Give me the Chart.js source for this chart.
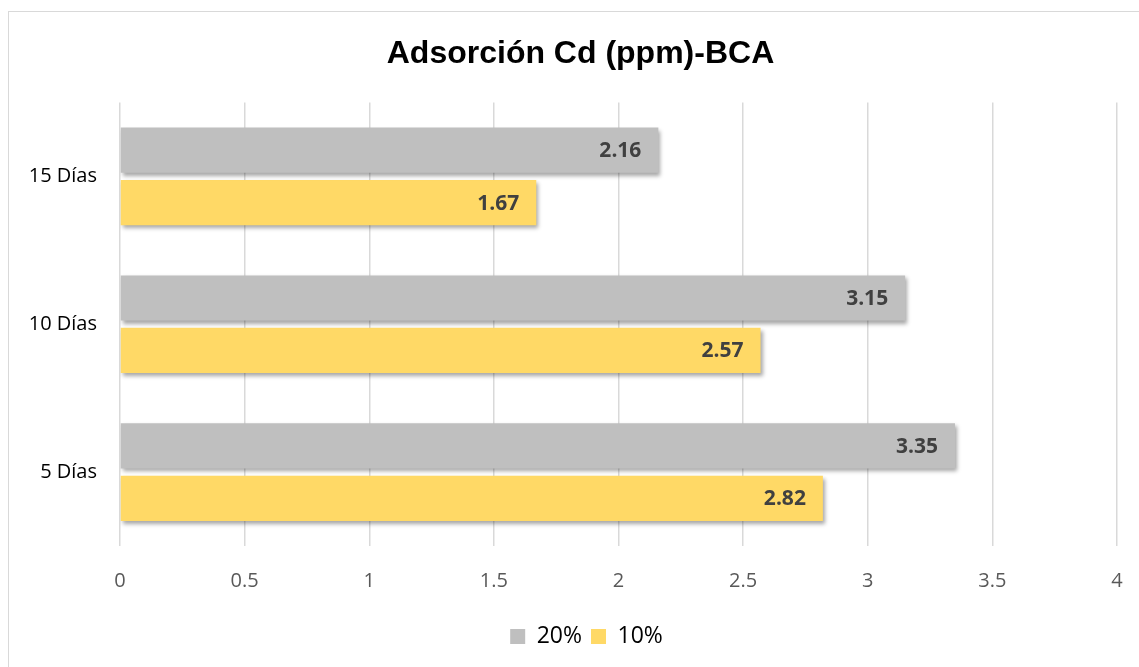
<!DOCTYPE html>
<html>
<head>
<meta charset="utf-8">
<script src="https://cdn.jsdelivr.net/npm/chart.js@4"></script>
<style>
    html, body { margin: 0; padding: 0; background: #fff; overflow: hidden; }
    #frame {
        position: absolute; left: 8px; top: 11px; width: 1200px; height: 700px;
        border: 1px solid #d9d9d9; box-sizing: border-box;
    }
    #wrap { position: absolute; left: 0; top: 0; width: 1139px; height: 667px; }
</style>
</head>
<body>
<div id="frame"></div>
<div id="wrap"><canvas id="chart" width="1139" height="667"></canvas></div>
<script>
// Chart data
const categories = ['15 Días', '10 Días', '5 Días'];
const series20 = [2.16, 3.15, 3.35];
const series10 = [1.67, 2.57, 2.82];
const seriesNames = ['20%', '10%'];
const xTicks = [0, 0.5, 1, 1.5, 2, 2.5, 3, 3.5, 4];

// Soft shadow under the bars
const barShadow = {
    id: 'barShadow',
    beforeDatasetsDraw(chart) {
        const ctx = chart.ctx;
        ctx.save();
        ctx.shadowColor = 'rgba(0, 0, 0, 0.35)';
        ctx.shadowBlur = 4;
        ctx.shadowOffsetX = 2;
        ctx.shadowOffsetY = 3;
    },
    afterDatasetsDraw(chart) {
        chart.ctx.restore();
    }
};

// Value labels at the inside end of each bar
const valueLabels = {
    id: 'valueLabels',
    afterDatasetsDraw(chart) {
        const ctx = chart.ctx;
        ctx.save();
        ctx.font = 'bold 21px "Open Sans"';
        ctx.fillStyle = '#404040';
        ctx.textAlign = 'right';
        ctx.textBaseline = 'middle';
        chart.data.datasets.forEach((ds, i) => {
            chart.getDatasetMeta(i).data.forEach((bar, j) => {
                ctx.fillText(ds.data[j].toFixed(2), bar.x - 17, bar.y + 1);
            });
        });
        ctx.restore();
    }
};

// Title and legend sit a little right of the canvas centre in the original
const shiftBlocks = {
    id: 'shiftBlocks',
    afterLayout(chart) {
        chart.titleBlock.left += 22;
        chart.titleBlock.right += 22;
        chart.legend.left += 28;
        chart.legend.right += 28;
    }
};

new Chart(document.getElementById('chart').getContext('2d'), {
    type: 'bar',
    data: {
        labels: categories,
        datasets: [
            {
                label: seriesNames[0],
                data: series20,
                backgroundColor: '#bfbfbf',
                categoryPercentage: 0.71,
                barPercentage: 0.86
            },
            {
                label: seriesNames[1],
                data: series10,
                backgroundColor: '#ffd966',
                categoryPercentage: 0.71,
                barPercentage: 0.86
            }
        ]
    },
    options: {
        indexAxis: 'y',
        responsive: false,
        animation: false,
        layout: { padding: { left: 0, right: 22, top: 0, bottom: 9 } },
        plugins: {
            title: {
                display: true,
                text: 'Adsorción Cd (ppm)-BCA',
                color: '#000',
                font: { family: '"Liberation Sans", Arial', size: 32, weight: 'bold' },
                padding: { top: 35, bottom: 29 }
            },
            legend: {
                position: 'bottom',
                labels: {
                    color: '#000',
                    font: { family: '"Open Sans"', size: 23 },
                    boxWidth: 15,
                    boxHeight: 15,
                    padding: 9
                }
            },
            tooltip: { enabled: false }
        },
        scales: {
            x: {
                min: 0,
                max: 4,
                afterBuildTicks: scale => {
                    scale.ticks = xTicks.map(v => ({ value: v }));
                },
                // extra room under the labels, kept out of the tick padding
                afterFit: scale => { scale.height += 23; },
                grid: { color: '#d9d9d9', lineWidth: 1.5, drawTicks: true, tickLength: 23, tickColor: 'rgba(0,0,0,0)' },
                border: { display: false },
                ticks: {
                    color: '#595959',
                    font: { family: '"Open Sans"', size: 20 },
                    padding: 0,
                    maxRotation: 0,
                    callback: value => String(value)
                }
            },
            y: {
                afterFit: scale => { scale.width = 120; },
                grid: { display: false },
                border: { display: false },
                ticks: {
                    color: '#000',
                    font: { family: '"Open Sans"', size: 20 },
                    padding: 15
                }
            }
        }
    },
    plugins: [barShadow, valueLabels, shiftBlocks]
});
</script>
</body>
</html>
